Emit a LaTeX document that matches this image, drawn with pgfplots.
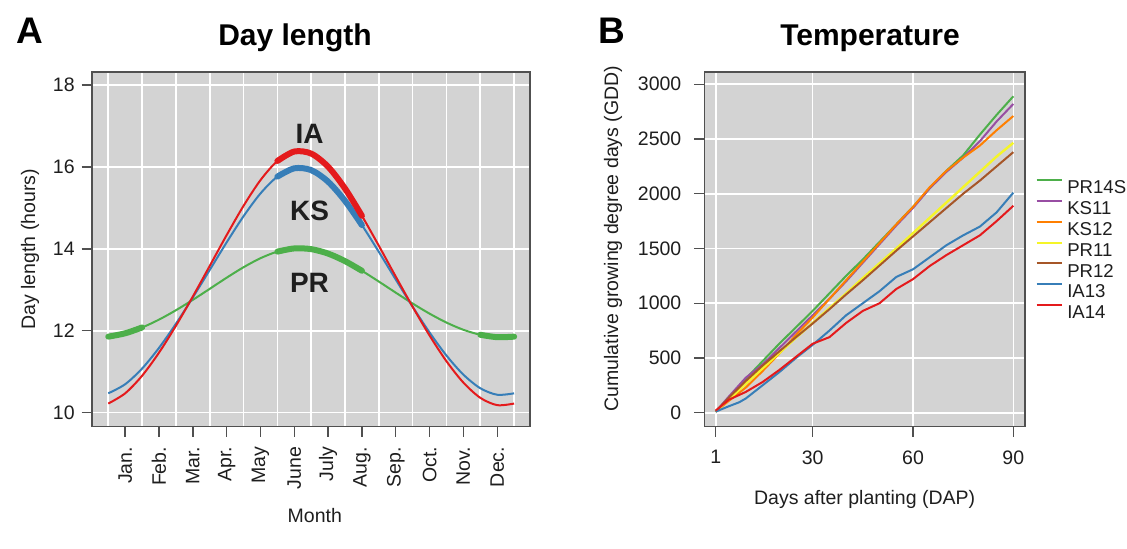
\documentclass[border=0pt]{standalone}
\usepackage{pgfplots}
\pgfplotsset{compat=1.18}
\usepackage{pgfplotstable}
\usepackage{fontspec}
\setmainfont{Liberation Sans}

\definecolor{cRed}{RGB}{228,26,28}
\definecolor{cBlue}{RGB}{55,126,184}
\definecolor{cGreen}{RGB}{77,175,74}
\definecolor{cPurple}{RGB}{152,78,163}
\definecolor{cOrange}{RGB}{255,127,0}
\definecolor{cYellow}{RGB}{245,245,40}
\definecolor{cBrown}{RGB}{166,86,40}
\definecolor{panelbg}{RGB}{211,211,211}
\definecolor{framec}{RGB}{80,80,80}
\definecolor{txt}{RGB}{30,30,30}

% Day length (hours); x = month position (0 = Jan 1, 12 = Dec 31)
\pgfplotstableread{
x     IA      KS      PR
0     10.221  10.471  11.855
0.5   10.471  10.693  11.937
1     10.900  11.076  12.079
1.5   11.464  11.581  12.271
2     12.120  12.169  12.500
2.5   12.835  12.813  12.754
3     13.583  13.484  13.023
3.5   14.335  14.158  13.295
4     15.051  14.797  13.551
4.5   15.678  15.353  13.771
5     16.146  15.764  13.932
5.5   16.377  15.967  14.010
6     16.327  15.923  13.993
6.5   16.006  15.641  13.884
7     15.474  15.172  13.700
7.5   14.807  14.580  13.464
8     14.076  13.926  13.201
8.5   13.323  13.251  12.930
9     12.584  12.586  12.664
9.5   11.883  11.957  12.417
10    11.254  11.393  12.199
10.5  10.733  10.927  12.023
11    10.361  10.595  11.901
11.5  10.182  10.436  11.842
12    10.221  10.471  11.855
}\daylen

\pgfplotsset{
  mystyle/.style={
    scale only axis,
    axis background/.style={fill=panelbg},
    axis line style={draw=framec, line width=0.8pt},
    grid style={white, line width=0.8pt},
    tick align=outside, tick pos=left,
    major tick length=5pt, minor tick length=0pt,
    every tick/.style={draw=framec, line width=0.7pt},
    tick label style={font=\fontsize{9.75}{11}\selectfont, text=txt},
    label style={font=\fontsize{9.75}{11}\selectfont, text=txt},
    /pgf/number format/assume math mode=true,
    /pgf/number format/set thousands separator={},
    scaled ticks=false,
  }
}

\begin{document}
\begin{tikzpicture}
\path[use as bounding box] (0pt,0pt) rectangle (563.5pt,274pt);

% ---------------- Panel A ----------------
\begin{axis}[mystyle,
  at={(45.85pt,60.75pt)}, anchor=south west,
  width=219.15pt, height=177.25pt,
  xmin=-0.49, xmax=12.47, ymin=9.66, ymax=18.32,
  xtick={0.5,1.5,2.5,3.5,4.5,5.5,6.5,7.5,8.5,9.5,10.5,11.5},
  xticklabels={Jan.,Feb.,Mar.,Apr.,May,June,July,Aug.,Sep.,Oct.,Nov.,Dec.},
  minor xtick={0,1,...,12}, xminorgrids=true, xmajorgrids=false,
  ytick={10,12,14,16,18}, ymajorgrids=true,
  xticklabel style={rotate=90, anchor=east, inner sep=0pt},
  yticklabel style={anchor=east, inner sep=0pt},
  xticklabel shift=5pt, yticklabel shift=3.35pt,
  xlabel={Month}, ylabel={Day length (hours)},
  xlabel style={at={(axis description cs:0.509,-0.2525)}, anchor=center},
  ylabel style={at={(axis description cs:-0.1408,0.5)}, anchor=center},
]
\addplot[cGreen, line width=1pt, smooth, forget plot] table[x=x, y=PR] {\daylen};
\addplot[cBlue, line width=1pt, smooth, forget plot] table[x=x, y=KS] {\daylen};
\addplot[cRed, line width=1pt, smooth, forget plot] table[x=x, y=IA] {\daylen};
\addplot[cGreen, line width=3pt, line cap=round, smooth, forget plot, restrict x to domain=5:7.5] table[x=x, y=PR] {\daylen};
\addplot[cGreen, line width=3pt, line cap=round, smooth, forget plot, restrict x to domain=0:1] table[x=x, y=PR] {\daylen};
\addplot[cGreen, line width=3pt, line cap=round, smooth, forget plot, restrict x to domain=11:12] table[x=x, y=PR] {\daylen};
\addplot[cBlue, line width=3pt, line cap=round, smooth, forget plot, restrict x to domain=5:7.5] table[x=x, y=KS] {\daylen};
\addplot[cRed, line width=3pt, line cap=round, smooth, forget plot, restrict x to domain=5:7.5] table[x=x, y=IA] {\daylen};
\node[font=\fontsize{14}{16}\selectfont\bfseries, text=txt] at (axis cs:5.95,16.80) {IA};
\node[font=\fontsize{14}{16}\selectfont\bfseries, text=txt] at (axis cs:5.95,14.93) {KS};
\node[font=\fontsize{14}{16}\selectfont\bfseries, text=txt] at (axis cs:5.95,13.16) {PR};
\end{axis}

% ---------------- Panel B ----------------
\begin{axis}[mystyle,
  at={(352.15pt,60.75pt)}, anchor=south west,
  width=160.35pt, height=177.25pt,
  xmin=-2.41, xmax=93.5, ymin=-126, ymax=3112,
  xtick={1,30,60,90}, ytick={0,500,...,3000},
  xmajorgrids=true, ymajorgrids=true,
  xticklabel style={anchor=north, inner sep=0pt},
  yticklabel style={anchor=east, inner sep=0pt},
  xticklabel shift=6.75pt, yticklabel shift=6.3pt,
  xlabel={Days after planting (DAP)}, ylabel={Cumulative growing degree days (GDD)},
  xlabel style={at={(axis description cs:0.5,-0.2045)}, anchor=center},
  ylabel style={at={(axis description cs:-0.2847,0.53)}, anchor=center},
  legend cell align=left,
  legend style={at={(axis description cs:1.032,0.706)}, anchor=north west,
    draw=none, fill=none, inner sep=0pt, row sep=0pt, column sep=2pt,
    font=\fontsize{9.3}{10}\selectfont,
    nodes={inner sep=0pt, text height=8.6pt, text depth=1.8pt, text=txt}},
  legend image code/.code={\draw[#1, line width=1pt] (0pt,3.4pt) -- (12.8pt,3.4pt);},
]
\addplot[cGreen, line width=1pt] coordinates {(1,10) (5,140) (10,310) (15,470) (20,630) (25,780) (30,930) (35,1090) (40,1250) (45,1400) (50,1560) (55,1720) (60,1880) (65,2050) (70,2210) (75,2350) (80,2540) (85,2720) (90,2890)};
\addlegendentry{PR14S}
\addplot[cPurple, line width=1pt] coordinates {(1,10) (5,150) (10,320) (15,440) (20,590) (25,740) (30,890) (35,1040) (40,1200) (45,1370) (50,1540) (55,1710) (60,1870) (65,2050) (70,2200) (75,2330) (80,2480) (85,2660) (90,2820)};
\addlegendentry{KS11}
\addplot[cOrange, line width=1pt] coordinates {(1,10) (5,110) (10,230) (15,380) (20,540) (25,710) (30,870) (35,1040) (40,1210) (45,1380) (50,1550) (55,1720) (60,1880) (65,2060) (70,2210) (75,2330) (80,2440) (85,2580) (90,2710)};
\addlegendentry{KS12}
\addplot[cYellow, line width=1.2pt] coordinates {(1,10) (5,125) (10,265) (15,405) (20,545) (25,685) (30,820) (35,955) (40,1090) (45,1230) (50,1365) (55,1500) (60,1640) (65,1780) (70,1920) (75,2060) (80,2200) (85,2340) (90,2465)};
\addlegendentry{PR11}
\addplot[cBrown, line width=1pt] coordinates {(1,10) (5,140) (10,290) (15,430) (20,560) (25,690) (30,815) (35,945) (40,1080) (45,1210) (50,1345) (55,1480) (60,1610) (65,1740) (70,1870) (75,2000) (80,2120) (85,2250) (90,2380)};
\addlegendentry{PR12}
\addplot[cBlue, line width=1pt] coordinates {(1,10) (5,60) (8,95) (10,130) (15,250) (20,370) (25,500) (30,620) (35,750) (40,890) (45,1000) (50,1110) (55,1240) (60,1310) (65,1420) (70,1530) (75,1620) (80,1700) (85,1830) (90,2010)};
\addlegendentry{IA13}
\addplot[cRed, line width=1pt] coordinates {(1,20) (5,120) (10,190) (15,280) (20,390) (25,510) (30,630) (35,690) (40,820) (45,930) (50,1000) (55,1130) (60,1220) (65,1340) (70,1440) (75,1530) (80,1620) (85,1750) (90,1890)};
\addlegendentry{IA14}
\end{axis}

% ---------------- Titles ----------------
\node[anchor=base west, inner sep=0pt, font=\fontsize{18.5}{20}\selectfont\bfseries] at (8pt,252.5pt) {A};
\node[anchor=base west, inner sep=0pt, font=\fontsize{18.5}{20}\selectfont\bfseries] at (299pt,252.5pt) {B};
\node[anchor=base, inner sep=0pt, font=\fontsize{15}{17}\selectfont\bfseries] at (147.5pt,251.5pt) {Day length};
\node[anchor=base, inner sep=0pt, font=\fontsize{15}{17}\selectfont\bfseries] at (435pt,251.5pt) {Temperature};
\end{tikzpicture}
\end{document}
